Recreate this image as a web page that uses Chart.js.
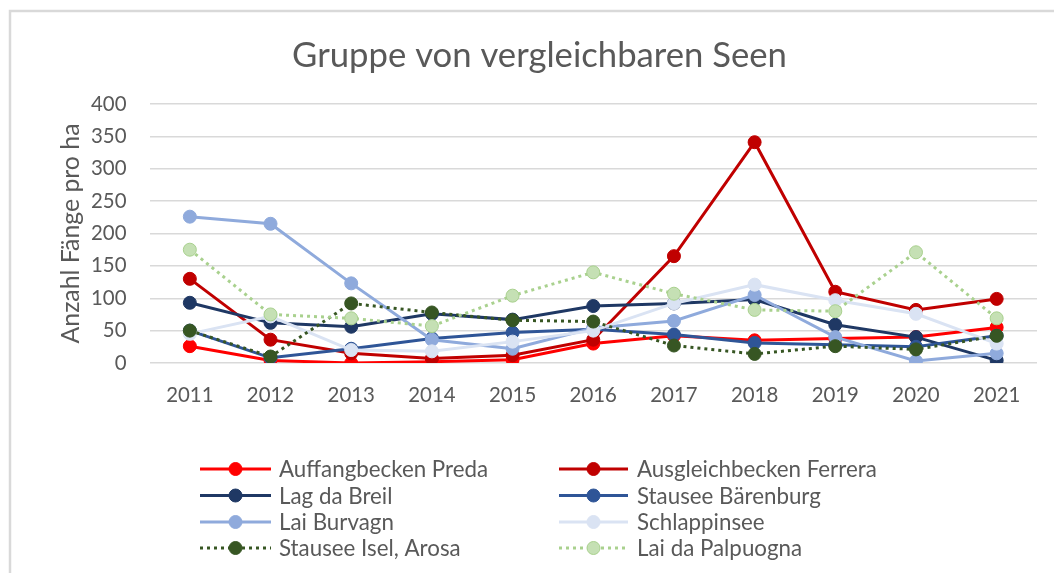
<!DOCTYPE html>
<html><head><meta charset="utf-8">
<script src="https://cdn.jsdelivr.net/npm/chart.js@4.4.1/dist/chart.umd.min.js"></script>
<style>html,body{margin:0;padding:0;background:#fff;overflow:hidden}#wrap{position:relative;width:1054px;height:573px}</style>
</head><body><div id="wrap"><canvas id="c" width="1054" height="573"></canvas></div>
<script>
// ---- data ----
const chartTitle = 'Gruppe von vergleichbaren Seen';
const yAxisTitle = 'Anzahl Fänge pro ha';
const years = ['2011','2012','2013','2014','2015','2016','2017','2018','2019','2020','2021'];
const yTicks = [0, 50, 100, 150, 200, 250, 300, 350, 400];
const seriesNames = ['Auffangbecken Preda','Ausgleichbecken Ferrera','Lag da Breil','Stausee Bärenburg','Lai Burvagn','Schlappinsee','Stausee Isel, Arosa','Lai da Palpuogna'];
const auffangbeckenPreda     = [26, 4, 0, 2, 5, 30, 42, 35, 38, 40, 55];
const ausgleichbeckenFerrera = [130, 36, 15, 7, 12, 36, 165, 341, 110, 82, 99];
const lagDaBreil             = [93, 62, 56, 76, 67, 88, 92, 98, 59, 40, 4];
const stauseeBaerenburg      = [50, 8, 22, 38, 47, 52, 44, 31, 28, 25, 42];
const laiBurvagn             = [226, 215, 123, 36, 22, 54, 65, 105, 40, 3, 15];
const schlappinsee           = [45, 72, 20, 18, 33, 50, 92, 121, 97, 76, 30];
const stauseeIselArosa       = [50, 10, 92, 78, 66, 64, 27, 14, 26, 21, 42];
const laiDaPalpuogna         = [175, 75, 69, 57, 104, 140, 107, 82, 80, 171, 69];
const seriesValues = [auffangbeckenPreda, ausgleichbeckenFerrera, lagDaBreil, stauseeBaerenburg, laiBurvagn, schlappinsee, stauseeIselArosa, laiDaPalpuogna];

// ---- styles ----
const lineColors  = ['#FF0000','#C00000','#1F3864','#2F5597','#8FAADC','#DAE3F3','#375623','#A9D18E'];
const pointFills  = ['#FF0000','#C00000','#1F3864','#2F5597','#8FAADC','#DAE3F3','#375623','#C5E0B4'];
const dotted      = [false,false,false,false,false,false,true,true];
const textColor = '#595959';
const fam = 'Lato, "Open Sans", sans-serif';

function fit(text, w){ const c=document.createElement('canvas').getContext('2d'); c.font='100px '+fam; return 100*w/c.measureText(text).width; }
const titleSize = fit(chartTitle, 495);
const legendSize = (fit('Ausgleichbecken Ferrera',241)+fit('Auffangbecken Preda',208))/2;
const tickSize = (fit('2011',46.7)+fit('400',36))/2;
const axisTitleSize = fit(yAxisTitle,220);

const datasets = seriesNames.map((name,i)=>({
  label: name,
  data: seriesValues[i],
  borderColor: lineColors[i],
  backgroundColor: pointFills[i],
  pointBackgroundColor: pointFills[i],
  pointBorderColor: lineColors[i],
  pointRadius: 6.5,
  pointHoverRadius: 6.5,
  pointBorderWidth: 1,
  borderWidth: 3,
  borderDash: dotted[i] ? [3,4] : [],
  tension: 0,
  order: seriesNames.length - i
}));

const decor = {
  id:'decor',
  beforeDraw(chart){
    const ctx = chart.ctx;
    ctx.save();
    ctx.fillStyle='#fff'; ctx.fillRect(0,0,chart.width,chart.height);
    ctx.strokeStyle='#D9D9D9'; ctx.lineWidth=2.5;
    ctx.beginPath(); ctx.moveTo(10,chart.height+5); ctx.lineTo(10,11); ctx.lineTo(chart.width+5,11); ctx.stroke();
    ctx.restore();
  },
  afterDraw(chart){
    const ctx = chart.ctx;
    ctx.save();
    ctx.fillStyle = textColor;
    ctx.font = titleSize.toFixed(2)+'px '+fam;
    ctx.textAlign='center'; ctx.textBaseline='alphabetic';
    ctx.fillText(chartTitle, 539.5, 67);
    // legend
    const cols = [{x0:200,x1:271,tx:279},{x0:559,x1:628,tx:637}];
    const rows = [469,495.5,522,548];
    chart.data.datasets.forEach((ds,i)=>{
      const c = cols[i%2], y = rows[Math.floor(i/2)];
      ctx.strokeStyle = ds.borderColor; ctx.lineWidth = 3;
      ctx.setLineDash(ds.borderDash||[]);
      ctx.beginPath(); ctx.moveTo(c.x0,y); ctx.lineTo(c.x1,y); ctx.stroke();
      ctx.setLineDash([]);
      ctx.beginPath(); ctx.arc((c.x0+c.x1)/2, y, 6.5, 0, Math.PI*2);
      ctx.fillStyle = ds.pointBackgroundColor; ctx.fill();
      ctx.lineWidth=1; ctx.strokeStyle = ds.pointBorderColor; ctx.stroke();
      ctx.fillStyle = textColor;
      ctx.font = legendSize.toFixed(2)+'px '+fam;
      ctx.textAlign='left'; ctx.textBaseline='middle';
      ctx.fillText(ds.label, c.tx, y+1);
    });
    ctx.restore();
  }
};

new Chart(document.getElementById('c'), {
  type:'line',
  data:{ labels: years, datasets },
  options:{
    responsive:false, animation:false, devicePixelRatio:1,
    layout:{ padding:{ left:0, right:17, top:104, bottom:160 } },
    plugins:{ legend:{display:false}, title:{display:false}, tooltip:{enabled:false} },
    scales:{
      x:{
        offset:true,
        grid:{display:false, offset:true}, border:{display:false},
        ticks:{ color:textColor, font:{family:fam,size:tickSize}, padding:12, maxRotation:0 },
        afterFit(s){ s.height = 50; }
      },
      y:{
        min:0, max:400,
        afterBuildTicks(s){ s.ticks = yTicks.map(v=>({value:v})); },
        grid:{ color:'#D9D9D9', lineWidth:1.5, drawTicks:false },
        border:{display:false},
        ticks:{ color:textColor, font:{family:fam,size:tickSize}, padding:23 },
        title:{ display:true, text:yAxisTitle, color:textColor, font:{family:fam,size:axisTitleSize}, padding:{top:56,bottom:0} },
        afterFit(s){ s.width = 149.5; }
      }
    }
  },
  plugins:[decor]
});
</script></body></html>
